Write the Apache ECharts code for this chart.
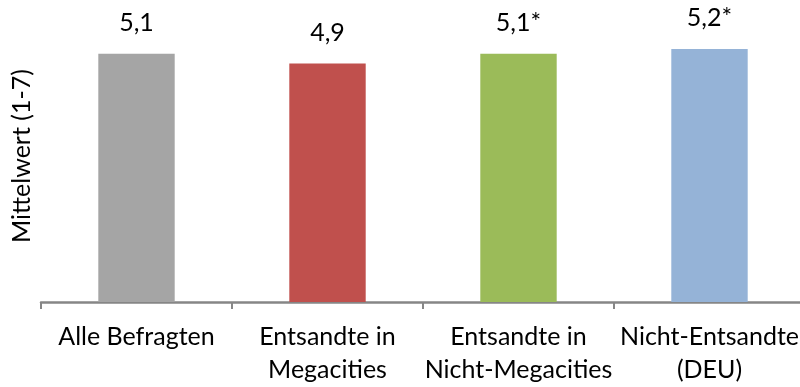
<!DOCTYPE html>
<html>
<head>
    <meta charset="utf-8">
    <title>Mittelwert</title>
    <script src="https://cdn.jsdelivr.net/npm/echarts@6/dist/echarts.min.js"></script>
</head>
<body style="margin:0;background:#fff">
    <div id="main" style="width:800px;height:387px;"></div>
    <script type="text/javascript">
        // Daten
        var categories = ['Alle Befragten', 'Entsandte in\nMegacities', 'Entsandte in\nNicht-Megacities', 'Nicht-Entsandte\n(DEU)'];
        var values = [5.1, 4.9, 5.1, 5.2];
        var valueLabels = ['5,1', '4,9', '5,1*', '5,2*'];
        var barColors = ['#A5A5A5', '#C0504D', '#9BBB59', '#95B3D7'];

        var myChart = echarts.init(document.getElementById('main'));
        var font = 'Lato';

        var option = {
            animation: false,
            grid: { left: 41, top: 10, width: 764, height: 292, outerBoundsMode: 'none', containLabel: false },
            xAxis: {
                type: 'category',
                data: categories,
                axisLine: { lineStyle: { color: '#868686', width: 2.5 } },
                axisTick: { show: true, length: 7, lineStyle: { color: '#868686', width: 2 } },
                axisLabel: {
                    color: '#000', fontFamily: font, fontSize: 25, lineHeight: 33,
                    margin: 18, interval: 0
                }
            },
            yAxis: {
                type: 'value',
                min: 0, max: 6,
                axisLine: { show: false },
                axisTick: { show: false },
                axisLabel: { show: false },
                splitLine: { show: false },
                name: 'Mittelwert (1-7)',
                nameLocation: 'middle',
                nameGap: 7,
                nameTextStyle: { color: '#000', fontFamily: font, fontSize: 25 }
            },
            series: [{
                type: 'bar',
                barWidth: '40%',
                data: values.map(function (v, i) {
                    return { value: v, itemStyle: { color: barColors[i] } };
                }),
                label: {
                    show: true,
                    position: 'top',
                    distance: 18,
                    color: '#000', fontFamily: font, fontSize: 25,
                    formatter: function (p) { return valueLabels[p.dataIndex]; }
                }
            }]
        };
        myChart.setOption(option);
    </script>
</body>
</html>
